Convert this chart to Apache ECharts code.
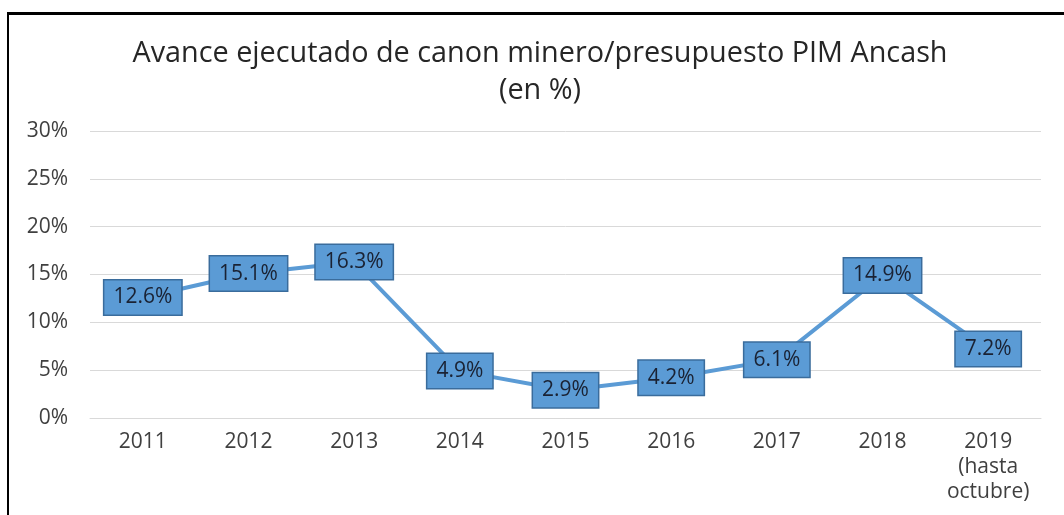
<!DOCTYPE html>
<html>
<head>
<meta charset="utf-8">
<script src="https://cdn.jsdelivr.net/npm/echarts@6/dist/echarts.min.js"></script>
<style>
  html, body { margin: 0; padding: 0; background: #fff; }
  #frame {
    position: absolute; left: 7px; top: 12px; width: 1057px; height: 503px;
    border-left: 2px solid #000; border-top: 3px solid #000; box-sizing: border-box;
  }
  #chart { position: absolute; left: 0; top: 0; width: 1064px; height: 515px; }
</style>
</head>
<body>
<div id="chart"></div>
<div id="frame"></div>
<script>
// datos del gráfico
const years = ['2011', '2012', '2013', '2014', '2015', '2016', '2017', '2018', '2019\n(hasta\noctubre)'];
const avance = [12.6, 15.1, 16.3, 4.9, 2.9, 4.2, 6.1, 14.9, 7.2];
const titleLines = ['Avance ejecutado de canon minero/presupuesto PIM Ancash', '(en %)'];

const chart = echarts.init(document.getElementById('chart'));

const option = {
  backgroundColor: '#fff',
  animation: false,
  title: {
    text: titleLines.join('\n'),
    left: 535,
    textAlign: 'center',
    top: 30,
    textStyle: {
      fontFamily: 'Open Sans',
      fontSize: 28.8,
      fontWeight: 'normal',
      color: '#262626',
      lineHeight: 37
    }
  },
  grid: {
    left: 90,
    right: 23,
    top: 131,
    bottom: 97
  },
  xAxis: {
    type: 'category',
    data: years,
    axisTick: { show: false },
    axisLine: { lineStyle: { color: '#d9d9d9', width: 1 } },
    axisLabel: {
      color: '#404040',
      fontFamily: 'Open Sans',
      fontSize: 21,
      lineHeight: 25,
      margin: 12,
      interval: 0
    }
  },
  yAxis: {
    type: 'value',
    min: 0,
    max: 30,
    interval: 5,
    axisLine: { show: false },
    axisTick: { show: false },
    splitLine: { lineStyle: { color: '#d9d9d9', width: 1 } },
    axisLabel: {
      formatter: '{value}%',
      color: '#404040',
      fontFamily: 'Open Sans',
      fontSize: 21,
      margin: 22
    }
  },
  series: [{
    type: 'line',
    data: avance,
    symbol: 'circle',
    symbolSize: 2,
    showSymbol: true,
    itemStyle: { color: '#5b9bd5' },
    lineStyle: { color: '#5b9bd5', width: 4 },
    label: {
      show: true,
      position: 'inside',
      formatter: (p) => p.value.toFixed(1) + '%',
      fontFamily: 'Open Sans',
      fontSize: 21,
      lineHeight: 24,
      color: '#1a2233',
      backgroundColor: '#5b9bd5',
      borderColor: '#3a6c9c',
      borderWidth: 1.5,
      padding: [5, 9, 5, 9]
    }
  }]
};

chart.setOption(option);
</script>
</body>
</html>
